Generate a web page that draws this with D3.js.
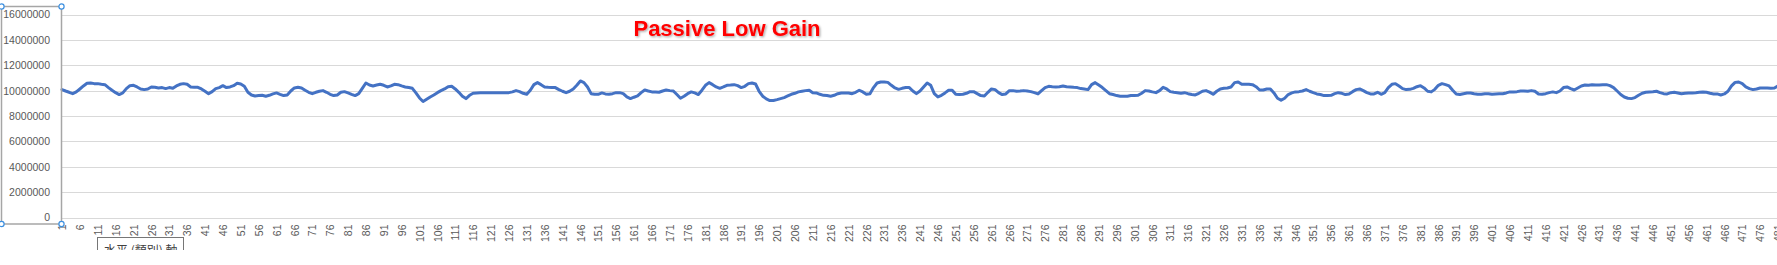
<!DOCTYPE html>
<html>
<head>
<meta charset="utf-8">
<script src="https://cdn.jsdelivr.net/npm/d3@7"></script>
<style>
  html, body { margin: 0; padding: 0; background: #fff; overflow: hidden; }
  svg { display: block; }
</style>
</head>
<body>
<div id="chart"></div>
<script>
const chartTitle = "Passive Low Gain";
const axisTooltip = "水平 (類別) 軸";
const yTickValues = [0, 2000000, 4000000, 6000000, 8000000, 10000000, 12000000, 14000000, 16000000];
const seriesValues = [
10080000, 9970000, 9870000, 9760000, 9900000, 10130000, 10370000, 10580000, 10600000, 10550000,
10550000, 10500000, 10470000, 10240000, 10030000, 9840000, 9690000, 9820000, 10160000, 10390000,
10420000, 10290000, 10130000, 10080000, 10130000, 10290000, 10260000, 10210000, 10240000, 10160000,
10240000, 10180000, 10370000, 10500000, 10550000, 10500000, 10290000, 10260000, 10260000, 10130000,
9950000, 9760000, 9920000, 10160000, 10240000, 10390000, 10240000, 10290000, 10390000, 10580000,
10520000, 10340000, 9870000, 9660000, 9580000, 9610000, 9630000, 9560000, 9630000, 9740000,
9820000, 9710000, 9610000, 9660000, 9970000, 10210000, 10260000, 10210000, 10030000, 9870000,
9760000, 9870000, 9950000, 10000000, 9870000, 9710000, 9610000, 9660000, 9870000, 9920000,
9820000, 9710000, 9610000, 9760000, 10180000, 10600000, 10440000, 10370000, 10440000, 10500000,
10420000, 10290000, 10370000, 10500000, 10470000, 10370000, 10290000, 10240000, 10180000, 9820000,
9420000, 9140000, 9320000, 9500000, 9660000, 9840000, 10000000, 10130000, 10310000, 10340000,
10130000, 9870000, 9560000, 9370000, 9630000, 9790000, 9820000, 9840000, 9840000, 9840000,
9840000, 9840000, 9840000, 9840000, 9840000, 9840000, 9900000, 10000000, 9920000, 9790000,
9710000, 10030000, 10470000, 10630000, 10470000, 10290000, 10260000, 10240000, 10240000, 10080000,
9950000, 9840000, 9950000, 10130000, 10420000, 10760000, 10630000, 10290000, 9760000, 9710000,
9710000, 9820000, 9740000, 9710000, 9760000, 9840000, 9840000, 9760000, 9500000, 9370000,
9480000, 9580000, 9840000, 10050000, 9970000, 9900000, 9900000, 9870000, 9970000, 10050000,
10000000, 9970000, 9690000, 9400000, 9560000, 9760000, 9900000, 9820000, 9690000, 10030000,
10420000, 10630000, 10470000, 10290000, 10180000, 10290000, 10420000, 10440000, 10470000, 10390000,
10240000, 10340000, 10550000, 10600000, 10520000, 9950000, 9560000, 9350000, 9220000, 9220000,
9290000, 9370000, 9450000, 9580000, 9710000, 9790000, 9900000, 9950000, 10000000, 10030000,
9840000, 9820000, 9710000, 9630000, 9610000, 9560000, 9630000, 9760000, 9820000, 9820000,
9820000, 9760000, 9870000, 10030000, 9900000, 9710000, 9760000, 10240000, 10600000, 10680000,
10680000, 10650000, 10420000, 10210000, 10100000, 10180000, 10240000, 10240000, 9970000, 9760000,
9970000, 10290000, 10600000, 10420000, 9760000, 9500000, 9630000, 9820000, 10030000, 10030000,
9710000, 9690000, 9710000, 9790000, 9920000, 9920000, 9760000, 9610000, 9580000, 9870000,
10130000, 10080000, 9840000, 9690000, 9740000, 10000000, 10000000, 9950000, 9970000, 10000000,
9970000, 9920000, 9840000, 9740000, 10000000, 10240000, 10340000, 10310000, 10290000, 10310000,
10370000, 10310000, 10290000, 10260000, 10240000, 10160000, 10130000, 10080000, 10470000, 10630000,
10440000, 10240000, 10000000, 9760000, 9690000, 9610000, 9560000, 9560000, 9560000, 9610000,
9610000, 9630000, 9790000, 10000000, 9970000, 9900000, 9840000, 10000000, 10260000, 10130000,
9920000, 9870000, 9840000, 9790000, 9840000, 9760000, 9690000, 9660000, 9790000, 9950000,
10000000, 9880000, 9710000, 9950000, 10130000, 10180000, 10210000, 10290000, 10630000, 10680000,
10500000, 10500000, 10500000, 10470000, 10310000, 10050000, 10050000, 10130000, 10130000, 9820000,
9400000, 9240000, 9400000, 9690000, 9820000, 9900000, 9920000, 9970000, 10080000, 9950000,
9840000, 9740000, 9690000, 9610000, 9610000, 9630000, 9760000, 9840000, 9790000, 9690000,
9740000, 9920000, 10080000, 10130000, 10000000, 9840000, 9740000, 9740000, 9870000, 9710000,
9840000, 10240000, 10500000, 10550000, 10370000, 10160000, 10080000, 10100000, 10180000, 10310000,
10390000, 10210000, 9950000, 9900000, 10100000, 10420000, 10550000, 10470000, 10370000, 10030000,
9740000, 9690000, 9760000, 9820000, 9820000, 9760000, 9710000, 9710000, 9760000, 9760000,
9710000, 9740000, 9760000, 9760000, 9820000, 9900000, 9900000, 9920000, 9970000, 9970000,
9950000, 10000000, 9950000, 9740000, 9710000, 9760000, 9840000, 9900000, 9840000, 9970000,
10240000, 10290000, 10160000, 10050000, 10210000, 10370000, 10440000, 10420000, 10470000, 10440000,
10440000, 10470000, 10470000, 10390000, 10240000, 9970000, 9690000, 9500000, 9400000, 9370000,
9450000, 9630000, 9790000, 9870000, 9900000, 9920000, 9950000, 9840000, 9760000, 9740000,
9840000, 9870000, 9820000, 9760000, 9790000, 9820000, 9820000, 9840000, 9870000, 9900000,
9870000, 9790000, 9740000, 9740000, 9660000, 9740000, 9950000, 10370000, 10650000, 10680000,
10550000, 10290000, 10160000, 10080000, 10130000, 10210000, 10210000, 10210000, 10180000, 10210000,
10370000, 10390000
];
const categories = seriesValues.map((_, i) => i + 1);
const xTickLabels = categories.filter(c => (c - 1) % 5 === 0);

const W = 1777, H = 265;
const plotLeft = 62, plotTop = 14.5, plotBottom = 217.5, catStep = 3.575;

const svg = d3.select("#chart").append("svg")
  .attr("width", W).attr("height", H)
  .style("font-family", "'Liberation Sans', Arial, sans-serif");

const defs = svg.append("defs");
const shadow = defs.append("filter").attr("id", "tshadow")
  .attr("x", "-10%").attr("y", "-30%").attr("width", "120%").attr("height", "160%");
shadow.append("feDropShadow").attr("dx", 1.2).attr("dy", 1.2)
  .attr("stdDeviation", 0.8).attr("flood-color", "#000").attr("flood-opacity", 0.35);
defs.append("clipPath").attr("id", "tipclip")
  .append("rect").attr("x", 0).attr("y", 0).attr("width", W).attr("height", 250);

const x = d3.scalePoint()
  .domain(categories)
  .range([plotLeft, plotLeft + (categories.length - 1) * catStep]);
const y = d3.scaleLinear().domain([0, 16000000]).range([plotBottom, plotTop]);

// gridlines
svg.append("g").selectAll("line").data(yTickValues).join("line")
  .attr("x1", plotLeft).attr("x2", W)
  .attr("y1", d => Math.round(y(d)) + 0.5).attr("y2", d => Math.round(y(d)) + 0.5)
  .attr("stroke", "#d9d9d9").attr("stroke-width", 1);

// y axis labels
const yAxis = d3.axisLeft(y).tickValues(yTickValues).tickFormat(d3.format("d")).tickSize(0).tickPadding(0);
const gy = svg.append("g").attr("transform", "translate(50,0)").call(yAxis);
gy.select(".domain").remove();
gy.selectAll("text").attr("fill", "#595959").attr("font-size", "10.5px")
  .attr("font-family", "'Liberation Sans', Arial, sans-serif");

// x axis labels
const xAxis = d3.axisBottom(x).tickValues(xTickLabels).tickSize(0).tickPadding(0);
const gx = svg.append("g").attr("transform", `translate(0,${plotBottom})`).call(xAxis);
gx.select(".domain").remove();
gx.selectAll("text")
  .attr("fill", "#595959").attr("font-size", "10.5px")
  .attr("font-family", "'Liberation Sans', Arial, sans-serif")
  .attr("text-anchor", "end")
  .attr("transform", "translate(0,7) rotate(-90)")
  .attr("x", 0).attr("y", 0).attr("dy", "0.35em");

// series line
const line = d3.line().x((d, i) => x(categories[i])).y(d => y(d));
svg.append("path").datum(seriesValues)
  .attr("d", line)
  .attr("fill", "none")
  .attr("stroke", "#4472C4")
  .attr("stroke-width", 3)
  .attr("stroke-linejoin", "round")
  .attr("stroke-linecap", "round");

// title
svg.append("text")
  .attr("x", 727).attr("y", 36)
  .attr("text-anchor", "middle")
  .attr("font-size", "22px").attr("font-weight", "bold")
  .attr("fill", "#FF0000")
  .attr("filter", "url(#tshadow)")
  .text(chartTitle);

// selected value-axis frame with handles
const sel = svg.append("g");
sel.append("rect").attr("x", 1.5).attr("y", 6.5).attr("width", 60).attr("height", 217.5)
  .attr("fill", "none").attr("stroke", "#a6a6a6").attr("stroke-width", 1.5);
const handles = [[1.5, 6.5], [61.5, 6.5], [1.5, 224], [61.5, 224]];
sel.selectAll("circle").data(handles).join("circle")
  .attr("cx", d => d[0]).attr("cy", d => d[1]).attr("r", 2.6)
  .attr("fill", "#fff").attr("stroke", "#3c8fe0").attr("stroke-width", 1.2);

// axis name tooltip
const tip = svg.append("g").attr("clip-path", "url(#tipclip)");
tip.append("rect").attr("x", 97.5).attr("y", 237.5).attr("width", 86).attr("height", 22)
  .attr("fill", "#fff").attr("stroke", "#767676").attr("stroke-width", 1);
tip.append("text").attr("x", 104).attr("y", 255)
  .attr("font-size", "12px").attr("fill", "#404040")
  .attr("font-family", "'Noto Sans CJK TC', 'Noto Sans CJK SC', sans-serif")
  .text(axisTooltip);
</script>
</body>
</html>
